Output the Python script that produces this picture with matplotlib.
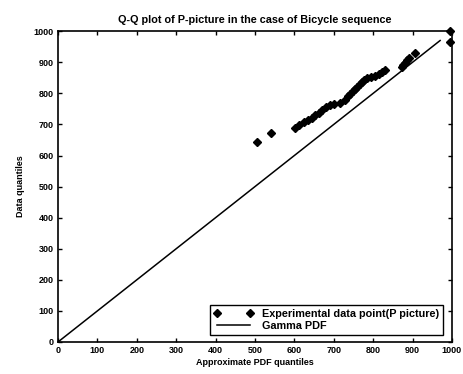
import numpy as np
import matplotlib.pyplot as plt

plt.rcParams['font.family'] = ['Liberation Sans', 'DejaVu Sans']
plt.rcParams['font.weight'] = 'bold'
plt.rcParams['font.size'] = 6.5

# experimental quantile pairs
pdf_q = [505, 541, 602, 612, 625, 635, 645, 652, 662, 670, 680, 690, 700, 716,
         728, 736, 742, 748, 754, 760, 766, 772, 778, 784, 795, 805, 815, 822,
         830, 872, 876, 880, 885, 892, 906, 995, 995]
data_q = [642, 672, 690, 698, 708, 714, 722, 730, 738, 748, 755, 762, 766, 770,
          780, 790, 798, 806, 815, 822, 830, 836, 842, 848, 852, 856, 862, 868,
          876, 884, 890, 898, 906, 915, 929, 965, 1000]

# reference line
ref_x = [0, 970]
ref_y = [0, 970]

xticks = np.arange(0, 1001, 100)
yticks = np.arange(0, 1001, 100)

fig = plt.figure(figsize=(4.64, 3.74), dpi=100)
ax = fig.add_axes([0.125, 0.0856, 0.849, 0.831])

ax.plot(pdf_q, data_q, linestyle='none', marker='D', markersize=3.8,
        color='black', clip_on=False, label='Experimental data point(P picture)')
ax.plot(ref_x, ref_y, color='black', linewidth=1.1, label='Gamma PDF')

ax.set_xlim(0, 1000)
ax.set_ylim(0, 1000)
ax.set_xticks(xticks)
ax.set_yticks(yticks)
ax.tick_params(direction='in', length=3, top=True, right=True, width=1, pad=3)
for s in ax.spines.values():
    s.set_linewidth(1.2)

ax.set_title('Q-Q plot of P-picture in the case of Bicycle sequence',
             fontweight='bold', pad=6)
ax.set_xlabel('Approximate PDF quantiles', fontweight='bold', labelpad=2)
ax.set_ylabel('Data quantiles', fontweight='bold', labelpad=6)

leg = ax.legend(loc='lower right', numpoints=2, fancybox=False, framealpha=1,
                edgecolor='black', borderpad=0.35, handlelength=3.6,
                labelspacing=0.2, fontsize=7.8, bbox_to_anchor=(0.99, 0.005))
leg.get_frame().set_linewidth(1.0)

fig.savefig('out.png', dpi=100)
